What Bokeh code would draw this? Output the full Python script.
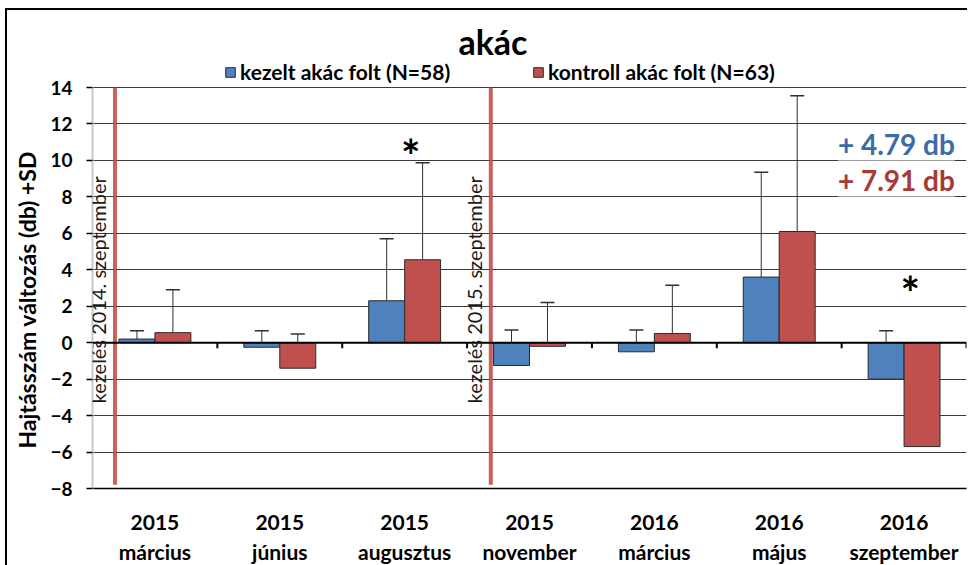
from bokeh.plotting import figure
from bokeh.layouts import column
from bokeh.models import (ColumnDataSource, Whisker, Label, Legend, LegendItem,
                          FixedTicker, Span, Range1d)
from bokeh.embed import file_html
from bokeh.resources import INLINE

# ---------------- data ----------------
categories = ["2015\nmárcius", "2015\njúnius", "2015\naugusztus", "2015\nnovember",
              "2016\nmárcius", "2016\nmájus", "2016\nszeptember"]
kezelt = [0.2, -0.25, 2.3, -1.25, -0.5, 3.6, -2.0]
kezelt_sd = [0.45, 0.9, 3.4, 1.95, 1.2, 5.75, 2.65]
kontroll = [0.55, -1.4, 4.55, -0.2, 0.5, 6.1, -5.7]
kontroll_sd = [2.35, 1.87, 5.32, 2.4, 2.65, 7.45, 5.37]
series_names = ["kezelt akác folt (N=58)", "kontroll akác folt (N=63)"]
treatment_x = [0.68, 3.69]
treatment_labels = ["kezelés 2014. szeptember", "kezelés 2015. szeptember"]
sig_x = [3.05, 7.05]
sig_y = [10.25, 2.75]
totals = ["+ 4.79 db", "+ 7.91 db"]
y_ticks = list(range(-8, 15, 2))
title_text = "akác"
y_title = "Hajtásszám változás (db) +SD"

BLUE = "#4F81BD"
RED = "#C0504D"
FONT = "Lato"

Y_MIN, Y_MAX = -8, 14
PX_PER_UNIT = 401 / 22.0
Y_TOP = Y_MAX + 77 / PX_PER_UNIT   # room above the axis for title and legend

x = [i + 1 for i in range(len(categories))]
bw = 0.288
src = ColumnDataSource(dict(
    xb=[v - bw / 2 for v in x], xr=[v + bw / 2 for v in x],
    kez=kezelt, kon=kontroll,
    kez_up=[a + b for a, b in zip(kezelt, kezelt_sd)],
    kon_up=[a + b for a, b in zip(kontroll, kontroll_sd)],
))

p = figure(width=960, height=547, output_backend="svg", toolbar_location=None,
           x_range=Range1d(0.5, len(categories) + 0.5), y_range=Range1d(Y_MIN, Y_TOP),
           min_border_left=85, min_border_top=0, min_border_bottom=69, min_border_right=1)
p.frame_width = 874
p.frame_height = 478
p.title.visible = False
p.outline_line_color = None

# grid
p.xgrid.grid_line_color = None
p.ygrid.ticker = FixedTicker(ticks=y_ticks)
p.ygrid.grid_line_color = "#3a3a3a"
p.ygrid.grid_line_width = 1

# axes
p.yaxis.ticker = FixedTicker(ticks=y_ticks)
p.yaxis.bounds = (Y_MIN, Y_MAX)
p.yaxis.axis_line_color = "#c8c8c8"
p.yaxis.axis_line_width = 2
p.yaxis.major_tick_line_color = "black"
p.yaxis.major_tick_line_width = 1.5
p.yaxis.major_tick_out = 6
p.yaxis.major_tick_in = 0
p.yaxis.minor_tick_line_color = None
p.yaxis.major_label_text_font = FONT
p.yaxis.major_label_text_font_style = "bold"
p.yaxis.major_label_text_font_size = "19px"
p.yaxis.major_label_text_color = "black"
p.yaxis.major_label_standoff = 14
# trailing no-break spaces push the rotated title down to sit beside the -8..14 span
p.yaxis.axis_label = y_title + "\u00a0" * 18
p.yaxis.axis_label_text_font = FONT
p.yaxis.axis_label_text_font_style = "bold"
p.yaxis.axis_label_text_font_size = "23px"
p.yaxis.axis_label_text_color = "black"
p.yaxis.axis_label_standoff = 6

p.xaxis.ticker = FixedTicker(ticks=x)
p.xaxis.major_label_overrides = {v: c for v, c in zip(x, categories)}
p.xaxis.axis_line_color = "black"
p.xaxis.axis_line_width = 1.5
p.xaxis.major_tick_line_color = None
p.xaxis.minor_tick_line_color = None
p.xaxis.major_label_text_font = FONT
p.xaxis.major_label_text_font_style = "bold"
p.xaxis.major_label_text_font_size = "21px"
p.xaxis.major_label_text_color = "black"
p.xaxis.major_label_standoff = 14
p.xaxis.major_label_text_line_height = 1.2

# bars
rb = p.vbar(x="xb", top="kez", bottom=0, width=bw, source=src,
            fill_color=BLUE, line_color="#2a2a2a", line_width=1)
rr = p.vbar(x="xr", top="kon", bottom=0, width=bw, source=src,
            fill_color=RED, line_color="#2a2a2a", line_width=1)

# error bars (+SD only)
for xc, lo, up in [("xb", "kez", "kez_up"), ("xr", "kon", "kon_up")]:
    w = Whisker(base=xc, lower=lo, upper=up, source=src, dimension="height",
                line_color="#303030", line_width=1)
    w.upper_head.size = 14
    w.upper_head.line_color = "#303030"
    w.upper_head.line_width = 1.5
    w.lower_head = None
    p.add_layout(w)

# zero line and category ticks on it
p.add_layout(Span(location=0, dimension="width", line_color="black", line_width=2))
bounds = [i + 0.5 for i in range(len(categories) + 1)]
p.segment(x0=bounds, y0=[0] * len(bounds), x1=bounds, y1=[-0.3] * len(bounds),
          line_color="black", line_width=2)

# treatment lines and labels
p.segment(x0=treatment_x, y0=[-7.8] * 2, x1=treatment_x, y1=[Y_MAX] * 2,
          line_color=RED, line_width=4, line_alpha=0.9)
for tx, tl in zip(treatment_x, treatment_labels):
    p.add_layout(Label(x=tx - 0.135, y=2.9, text=tl, angle=1.5708, text_align="center",
                       text_baseline="middle", text_font=FONT, text_font_size="20px",
                       text_color="#1a1a1a"))

# significance stars
for sx, sy in zip(sig_x, sig_y):
    p.add_layout(Label(x=sx, y=sy, text="*", text_align="center", text_baseline="middle",
                       text_font=FONT, text_font_style="bold", text_font_size="46px",
                       text_color="black"))

# totals
for t, ty, col in zip(totals, [10.9, 8.9], ["#3C6CA8", "#A63A37"]):
    p.add_layout(Label(x=6.47, y=ty, text=t, text_align="left", text_baseline="middle",
                       text_font=FONT, text_font_style="bold", text_font_size="28px",
                       text_color=col, background_fill_color="white", background_fill_alpha=0.5))

# title
p.add_layout(Label(x=3.707, y=16.55, text=title_text,
                   text_align="center", text_baseline="middle", text_font=FONT,
                   text_font_style="bold", text_font_size="34px", text_color="black"))

# legends (one per series, placed side by side above the axis)
for r, name, lx in [(rb, series_names[0], 132), (rr, series_names[1], 440)]:
    lg = Legend(items=[LegendItem(label=name, renderers=[r])], location=(lx, 404),
                orientation="horizontal", padding=0, margin=0, spacing=0,
                glyph_width=12, glyph_height=12, label_standoff=4,
                border_line_color=None, background_fill_alpha=0,
                label_text_font=FONT, label_text_font_style="bold",
                label_text_font_size="21px", label_text_color="black")
    p.add_layout(lg, "center")

layout = column(p, styles={"border-top": "2px solid black", "border-left": "2px solid black",
                           "margin-left": "5px", "margin-top": "8px"})

open("out.html", "w").write(file_html(layout, INLINE))
